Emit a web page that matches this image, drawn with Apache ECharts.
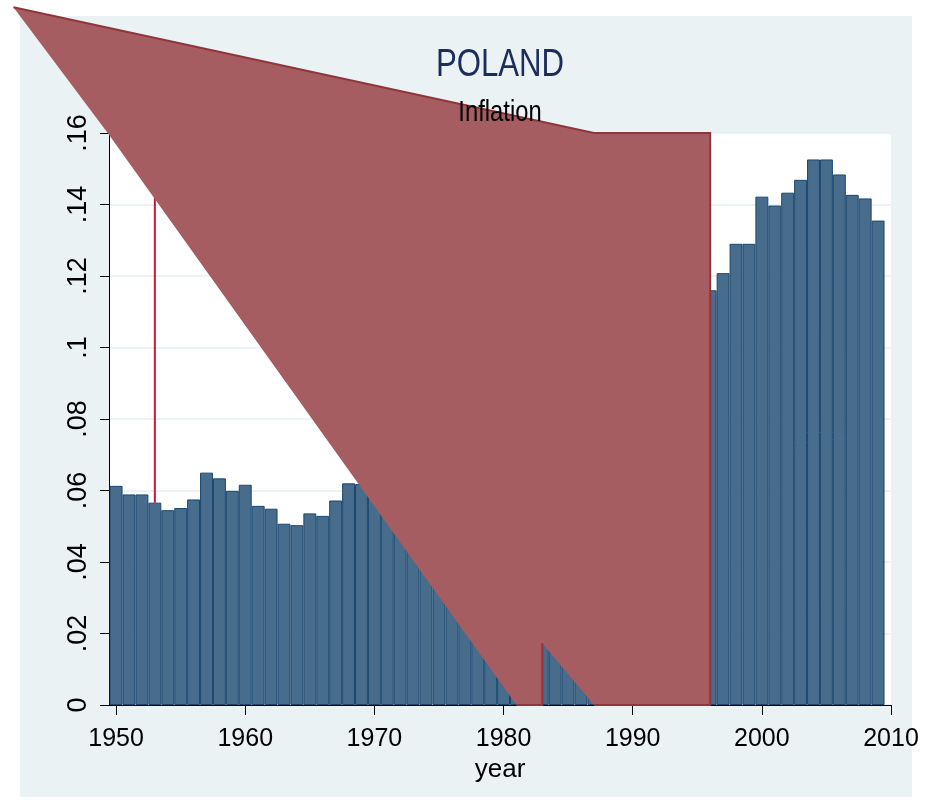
<!DOCTYPE html>
<html>
<head>
    <meta charset="utf-8">
    <title>Poland - Inflation</title>
    <script src="https://cdn.jsdelivr.net/npm/echarts@6/dist/echarts.min.js"></script>
    <style>
      body { margin: 0; background: #fff; }
    </style>
</head>
<body>
    <div id="main" style="width: 926px;height:812px;"></div>
    <script type="text/javascript">
    var myChart = echarts.init(document.getElementById('main'));

    // Data
    var years = [];
    for (var y = 1950; y <= 2009; y++) years.push(y);
    var inflation = [
      0.0613, 0.0589, 0.0589, 0.0566, 0.0545, 0.0551, 0.0575, 0.0650, 0.0634, 0.0599,
      0.0616, 0.0557, 0.0549, 0.0507, 0.0503, 0.0536, 0.0529, 0.0572, 0.0620, 0.0618,
      0.0630, 0.0660, 0.0700, 0.0740, 0.0780, 0.0800, 0.0790, 0.0770, 0.0750, 0.0700,
      0.0620, 0.0550, 0.0520, 0.0580, 0.0620, 0.0660, 0.0680, 0.0710, 0.0740, 0.0720,
      0.0800, 0.0920, 0.0980, 0.1030, 0.1070, 0.1120, 0.1160, 0.1208, 0.1290, 0.1290,
      0.1422, 0.1397, 0.1433, 0.1469, 0.1526, 0.1526, 0.1484, 0.1427, 0.1417, 0.1355
    ];
    var xTicks = [1950, 1960, 1970, 1980, 1990, 2000, 2010];

    // shaded polygon (year, value) vertices
    var polyYear = [1942.05, 1987, 1996, 1996, 1987, 1983, 1983, 1981, 1949.35];
    var polyVal  = [0.1952, 0.16, 0.16, 0, 0, 0.0173, 0, 0, 0.16];
    // outlined runs of vertices
    var polyEdges = [[0, 1, 2, 3, 4], [5, 6, 7]];

    // red spike
    var spikeYear = 1953;
    var spikeTop = 0.19;

    var font = "'Liberation Sans', Arial, sans-serif";

    var barData = years.map(function (yr, i) { return [yr, inflation[i]]; });
    var spikeBase = inflation[years.indexOf(spikeYear)];

    var option = {
      backgroundColor: '#fff',
      animation: false,
      graphic: [{
        type: 'rect',
        z: -10,
        shape: { x: 20, y: 16, width: 892, height: 781 },
        style: { fill: '#eaf2f3' }
      }, {
        type: 'text',
        z: 100,
        x: 500,
        y: 66,
        scaleX: 0.82,
        style: {
          text: 'POLAND',
          fill: '#1c2c5c',
          font: '38px ' + font,
          textAlign: 'center',
          textVerticalAlign: 'middle'
        }
      }, {
        type: 'text',
        z: 100,
        x: 500,
        y: 113,
        scaleX: 0.82,
        style: {
          text: 'Inflation',
          fill: '#000',
          font: '29px ' + font,
          textAlign: 'center',
          textVerticalAlign: 'middle'
        }
      }],
      grid: {
        left: 109,
        right: 35,
        top: 133,
        bottom: 107,
        show: true,
        backgroundColor: '#fff',
        borderWidth: 0,
        containLabel: false,
        outerBoundsMode: 'none'
      },
      xAxis: {
        type: 'value',
        min: 1949.45,
        max: 2010,
        name: 'year',
        nameLocation: 'middle',
        nameGap: 50,
        nameTextStyle: { color: '#000', fontSize: 26, fontFamily: font },
        axisLine: { onZero: false, lineStyle: { color: '#000', width: 1 } },
        axisTick: { customValues: xTicks, length: 10, lineStyle: { color: '#000' } },
        axisLabel: {
          customValues: xTicks,
          margin: 22,
          color: '#000',
          fontSize: 25,
          fontFamily: font,
          formatter: function (v) { return String(v); }
        },
        splitLine: { show: false }
      },
      yAxis: {
        type: 'value',
        min: 0,
        max: 0.16,
        interval: 0.02,
        axisLine: { show: true, lineStyle: { color: '#000', width: 1 } },
        axisTick: { show: true, length: 9, lineStyle: { color: '#000' } },
        axisLabel: {
          rotate: 90,
          margin: 17,
          color: '#000',
          fontSize: 27,
          fontFamily: font,
          formatter: function (v) {
            if (v === 0) return '0';
            return String(parseFloat(v.toFixed(2))).replace(/^0/, '');
          }
        },
        splitLine: { show: true, lineStyle: { color: '#e6eff1', width: 1.5 } }
      },
      series: [{
        name: 'Inflation',
        type: 'bar',
        barWidth: '100%',
        z: 2,
        itemStyle: {
          color: '#486c8c',
          borderColor: '#1a476f',
          borderWidth: 1
        },
        data: barData
      }, {
        name: 'spike',
        type: 'line',
        z: 3,
        showSymbol: false,
        clip: true,
        lineStyle: { color: '#ce123e', width: 2 },
        data: [[spikeYear, spikeBase], [spikeYear, spikeTop]]
      }, {
        name: 'shade',
        type: 'custom',
        z: 4,
        clip: false,
        data: polyYear.map(function (x, i) { return [x, polyVal[i]]; }),
        renderItem: function (params, api) {
          if (params.dataIndex !== 0) return;
          var pts = polyYear.map(function (x, i) { return api.coord([x, polyVal[i]]); });
          var children = [{
            type: 'polygon',
            shape: { points: pts },
            style: { fill: '#a65d62', stroke: null }
          }];
          polyEdges.forEach(function (run) {
            children.push({
              type: 'polyline',
              shape: { points: run.map(function (k) { return pts[k]; }) },
              style: { fill: null, stroke: '#90353b', lineWidth: 2 }
            });
          });
          return { type: 'group', children: children };
        }
      }]
    };

    myChart.setOption(option);
    </script>
</body>
</html>
